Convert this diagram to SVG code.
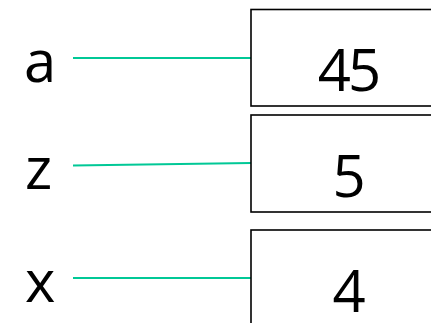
<svg xmlns="http://www.w3.org/2000/svg" width="431" height="323" viewBox="0 0 431 323">
<style>
.box{fill:#fff;stroke:#000;stroke-width:1.6}
.lbl{font-family:"Open Sans","Noto Sans",sans-serif;font-size:58px;fill:#000}
.val{font-family:"Open Sans","Noto Sans",sans-serif;font-size:58px;fill:#000;text-anchor:middle}
.con{stroke:#00c896;stroke-width:1.8;fill:none}
</style>
<rect width="431" height="323" fill="#fff"/>
<g id="connectors">
<line class="con" x1="73" y1="58" x2="251" y2="58"/>
<line class="con" x1="73" y1="165.5" x2="251" y2="163"/>
<line class="con" x1="73" y1="278" x2="251" y2="278"/>
</g>
<g id="label-a"><text class="lbl" x="24" y="82">a</text></g>
<g id="label-z"><text class="lbl" x="25" y="189">z</text></g>
<g id="label-x"><text class="lbl" x="25" y="302">x</text></g>
<g id="node-a"><rect class="box" x="251" y="9.5" width="200" height="96.5"/><text class="val" x="348" y="91" letter-spacing="-3">45</text></g>
<g id="node-z"><rect class="box" x="251" y="115" width="200" height="97"/><text class="val" x="349" y="197">5</text></g>
<g id="node-x"><rect class="box" x="251" y="230" width="200" height="110"/><text class="val" x="349" y="312">4</text></g>
</svg>
